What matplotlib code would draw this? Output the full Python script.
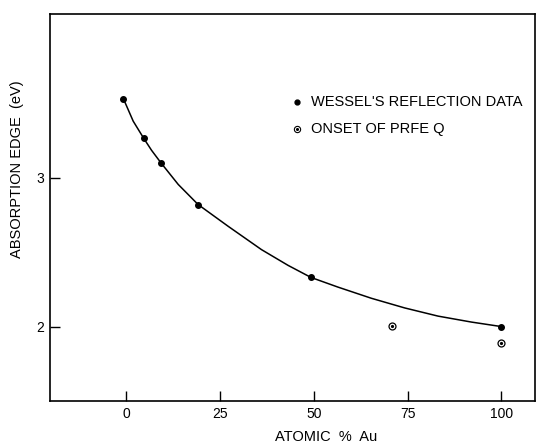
import matplotlib
matplotlib.use("Agg")
import matplotlib.pyplot as plt

plt.rcParams['font.family'] = ['Liberation Sans', 'DejaVu Sans']

# Wessel's reflection data (filled dots)
wessel_au = [-0.8, 4.6, 9.2, 19.1, 49.2, 99.9]
wessel_ev = [3.53, 3.265, 3.10, 2.82, 2.33, 2.00]

# onset of PRFE Q (dotted circles)
onset_au = [70.9, 99.9]
onset_ev = [2.005, 1.89]

# hand-drawn curve
curve_au = [-0.8, 1.8, 4.6, 6.7, 9.2, 13.8, 19.1, 27.1, 36.0, 43.1, 49.2, 56.4, 65.3, 74.2, 83.1, 92.0, 99.9]
curve_ev = [3.53, 3.38, 3.265, 3.184, 3.10, 2.955, 2.82, 2.674, 2.517, 2.411, 2.33, 2.265, 2.19, 2.125, 2.07, 2.03, 2.00]

xticks = [0, 25, 50, 75, 100]
yticks = [2, 3]

fig = plt.figure(figsize=(5.36, 4.45), dpi=100)
ax = fig.add_axes([0.0925, 0.099, 0.906, 0.8695])

ax.plot(curve_au, curve_ev, color='black', lw=1.1, zorder=2)
ax.plot(wessel_au, wessel_ev, 'o', color='black', ms=4, zorder=3)
ax.plot(onset_au, onset_ev, 'o', mfc='white', mec='black', mew=0.9, ms=5, zorder=3)
ax.plot(onset_au, onset_ev, 'o', color='black', ms=1.3, zorder=4)

ax.set_xlim(-20.5, 109)
ax.set_ylim(1.5, 4.1)
ax.set_xticks(xticks)
ax.set_yticks(yticks)
ax.tick_params(direction='in', length=7, width=1, labelsize=10, pad=4)
for s in ax.spines.values():
    s.set_linewidth(1.2)

# legend drawn by hand
ax.plot([0.51], [0.773], 'o', color='black', ms=3.5, transform=ax.transAxes)
ax.text(0.538, 0.773, "WESSEL'S REFLECTION DATA", transform=ax.transAxes,
        va='center', ha='left', fontsize=10.5)
ax.plot([0.51], [0.703], 'o', mfc='white', mec='black', mew=0.8, ms=4.5, transform=ax.transAxes)
ax.plot([0.51], [0.703], 'o', color='black', ms=1.2, transform=ax.transAxes)
ax.text(0.538, 0.703, "ONSET OF PRFE Q", transform=ax.transAxes,
        va='center', ha='left', fontsize=10.5)

fig.text(17 / 536, 1 - 169 / 445, "ABSORPTION EDGE  (eV)", rotation=90,
         ha='center', va='center', fontsize=10.5)
fig.text(326 / 536, 1 - 437 / 445, "ATOMIC  %  Au", ha='center', va='center', fontsize=10.5)

fig.savefig("out.png", dpi=100)
